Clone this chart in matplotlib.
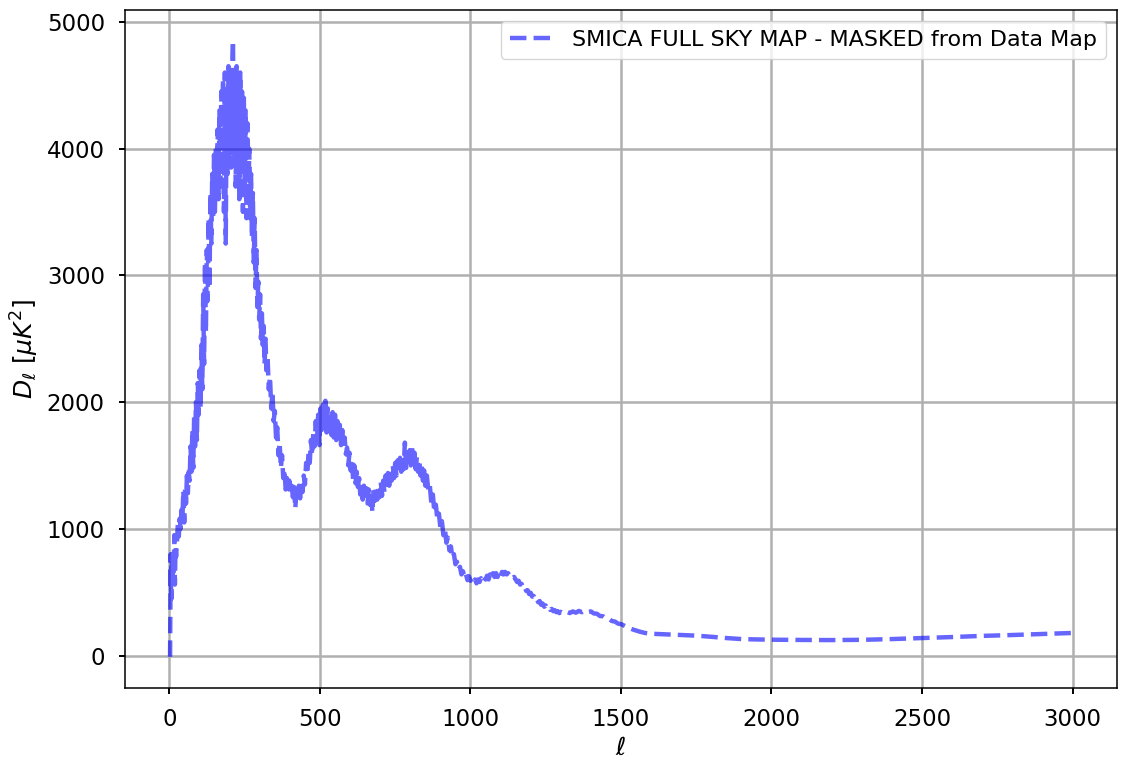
import matplotlib
matplotlib.use('Agg')
import matplotlib.pyplot as plt
import numpy as np

# valeurs (multipoles et D_ell en muK^2)
ell_rise = [2, 3, 4, 5, 6, 7, 8, 10, 12, 14, 16, 18, 20, 22, 25, 28, 31, 34, 37, 40,
            43, 46, 49, 52, 55, 58, 61, 64, 67, 70, 73, 76, 79, 82, 85, 88, 91, 94, 97, 100,
            103, 106, 109, 112, 115, 118, 121, 124, 127, 130, 133, 136, 139, 142, 145, 148, 151, 154]
dl_rise = [-10, 350, 800, 500, 700, 450, 750, 600, 800, 650, 950, 560, 850, 780, 900, 1050, 940, 1080, 1000, 1150,
           1080, 1300, 1050, 1320, 1200, 1420, 1280, 1450, 1380, 1650, 1450, 1780, 1480, 1900, 1650, 2000, 1700, 2150, 1900, 2250,
           1950, 2450, 2100, 2850, 2300, 3100, 2550, 3200, 2800, 3450, 2900, 3650, 3250, 3800, 3450, 3950, 3500, 4000]

ell_peak1 = [157, 160, 163, 166, 169, 172, 175, 178, 181, 184, 187, 190, 193, 196, 199, 202, 205, 208, 211, 214,
             217, 220, 223, 226, 229, 232, 235, 238, 241, 244, 247, 250, 253, 256, 259, 262, 265, 268, 271, 274,
             277, 280, 283, 286, 289, 292, 295, 298, 301, 304, 307, 310, 313, 316, 319, 322, 326, 330, 334, 338,
             342, 346, 350, 354, 358, 362, 366, 370, 374, 378, 382, 386, 390, 394, 398]
dl_peak1 = [3650, 4150, 3600, 4300, 3700, 4450, 3800, 4550, 3500, 4600, 3250, 4450, 3800, 4650, 3900, 4550, 3850, 4600, 4850, 3950,
            4550, 3700, 4650, 4050, 4550, 3600, 4600, 3950, 4450, 3500, 4400, 3650, 4300, 3450, 4200, 3550, 4000, 3450, 3800, 3300,
            3650, 3100, 3450, 2900, 3200, 2750, 2950, 2650, 2850, 2500, 2700, 2450, 2600, 2300, 2500, 2250, 2350, 2100, 2200, 1950,
            2080, 1850, 1930, 1720, 1800, 1580, 1680, 1480, 1580, 1400, 1470, 1310, 1400, 1290, 1380]

ell_peak23 = [402, 406, 410, 414, 418, 422, 426, 430, 434, 438, 442, 446, 450, 454, 458, 462, 466, 470, 474, 478,
              482, 486, 490, 494, 498, 502, 506, 510, 514, 518, 522, 526, 530, 534, 538, 542, 546, 550, 554, 558,
              562, 566, 570, 574, 578, 582, 586, 590, 594, 598, 602, 606, 610, 614, 618, 622, 626, 630, 634, 638,
              642, 646, 650, 654, 658, 662, 666, 670, 674, 678, 682, 686, 690, 694, 698, 702, 706, 710, 714, 718,
              722, 726, 730, 734, 738, 742, 746, 750, 754, 758, 762, 766, 770, 774, 778, 782, 786, 790, 794, 798,
              802, 806, 810, 814, 818, 822, 826, 830, 834, 838, 842, 846, 850, 855, 860, 865, 870, 875, 880, 885,
              890, 895, 900, 905, 910, 915, 920, 925, 930, 935, 940, 945, 950, 955, 960, 965, 970, 975, 980, 985,
              990, 995]
dl_peak23 = [1280, 1340, 1250, 1330, 1160, 1320, 1260, 1340, 1240, 1380, 1290, 1420, 1350, 1520, 1430, 1600, 1520, 1700, 1580, 1760,
             1650, 1850, 1700, 1900, 1660, 1950, 1780, 1980, 1800, 2010, 1760, 1950, 1750, 1880, 1740, 1920, 1720, 1900, 1700, 1850,
             1690, 1820, 1660, 1780, 1640, 1720, 1590, 1640, 1500, 1600, 1460, 1550, 1390, 1500, 1360, 1450, 1330, 1400, 1270, 1370,
             1230, 1340, 1220, 1320, 1200, 1310, 1190, 1300, 1130, 1310, 1220, 1320, 1230, 1340, 1250, 1370, 1260, 1380, 1290, 1420,
             1320, 1440, 1340, 1470, 1380, 1500, 1400, 1520, 1420, 1540, 1440, 1560, 1450, 1580, 1470, 1680, 1480, 1600, 1490, 1620,
             1500, 1640, 1480, 1600, 1470, 1570, 1450, 1540, 1420, 1500, 1380, 1460, 1340, 1420, 1300, 1340, 1200, 1270, 1130, 1190,
             1070, 1120, 1010, 1060, 950, 1000, 890, 930, 830, 860, 770, 800, 720, 740, 680, 700, 640, 665, 615, 640,
             595, 625]

ell_tail = [1000, 1005, 1010, 1015, 1020, 1025, 1030, 1035, 1040, 1045, 1050, 1055, 1060, 1065, 1070, 1075, 1080, 1085, 1090, 1095,
            1100, 1105, 1110, 1115, 1120, 1125, 1130, 1135, 1140, 1145, 1150, 1155, 1160, 1165, 1170, 1175, 1180, 1185, 1190, 1195,
            1200, 1205, 1210, 1215, 1220, 1225, 1230, 1235, 1240, 1245, 1250, 1255, 1260, 1265, 1270, 1275, 1280, 1285, 1290, 1295,
            1300, 1310, 1320, 1330, 1340, 1350, 1360, 1370, 1380, 1390, 1400, 1410, 1420, 1430, 1440, 1450, 1460, 1470, 1480, 1490,
            1500, 1520, 1540, 1560, 1580, 1600, 1650, 1700, 1750, 1800, 1850, 1900, 1950, 2000, 2100, 2200, 2300, 2400, 2500, 2600,
            2700, 2800, 2900, 2950, 2998]
dl_tail = [590, 610, 580, 600, 570, 600, 580, 610, 590, 620, 600, 630, 600, 640, 610, 650, 620, 650, 620, 660,
           630, 660, 640, 660, 640, 650, 630, 640, 615, 620, 600, 580, 590, 560, 565, 535, 545, 510, 515, 485,
           495, 465, 470, 440, 450, 420, 430, 400, 410, 385, 395, 370, 380, 360, 368, 350, 358, 342, 350, 335,
           345, 332, 345, 335, 348, 338, 352, 342, 355, 343, 348, 332, 330, 312, 310, 292, 290, 272, 268, 252,
           248, 225, 205, 190, 178, 172, 167, 162, 157, 148, 138, 130, 127, 125, 123, 122, 124, 130, 138, 146,
           155, 162, 170, 174, 178]

ell = np.array(ell_rise + ell_peak1 + ell_peak23 + ell_tail)
dl = np.array(dl_rise + dl_peak1 + dl_peak23 + dl_tail)

plt.rcParams['font.family'] = 'DejaVu Sans'
plt.rcParams['mathtext.fontset'] = 'dejavusans'

fig = plt.figure(figsize=(11.26, 7.7), dpi=100)
ax = fig.add_subplot(111)
fig.subplots_adjust(left=0.111, right=0.992, top=0.987, bottom=0.107)

ax.plot(ell, dl, '--', color='blue', alpha=0.6, lw=3.2,
        label='SMICA FULL SKY MAP - MASKED from Data Map')

ax.grid(True, color='#b0b0b0', lw=1.8)
ax.set_axisbelow(True)
ax.tick_params(labelsize=16.5, width=1.4, length=4, pad=10.5)
for s in ax.spines.values():
    s.set_linewidth(1.1)
ax.set_xlabel(r'$\ell$', fontsize=18)
ax.set_ylabel(r'$D_\ell$ [$\mu K^2$]', fontsize=18)
ax.legend(loc='upper right', fontsize=16)

fig.savefig('out.png', dpi=100)
